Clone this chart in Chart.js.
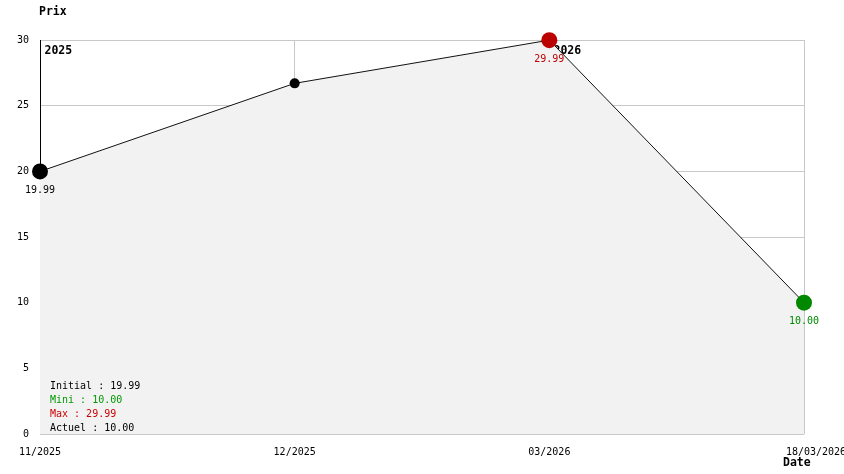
<!DOCTYPE html>
<html>
<head>
<meta charset="utf-8">
<script src="https://cdn.jsdelivr.net/npm/chart.js@4/dist/chart.umd.min.js"></script>
<style>
  body { margin: 0; background: #fff; }
  canvas { display: block; }
</style>
</head>
<body>
<canvas id="chart-prix" width="844" height="474"></canvas>
<script>
// data
const dateLabels = ['11/2025', '12/2025', '03/2026', '18/03/2026'];
const prices = [19.99, 26.7, 29.99, 10.00];
const pointColors = ['#000000', '#000000', '#bb0000', '#008800'];
const pointSizes = [8, 5, 8, 8];
const showValue = [true, false, true, true];
const yearIndexes = [0, 2];
const yearLabels = ['2025', '2026'];
const statNames = ['Initial', 'Mini', 'Max', 'Actuel'];
const statValues = ['19.99', '10.00', '29.99', '10.00'];
const statColors = ['#000000', '#009900', '#cc0000', '#000000'];

const MONO = "'DejaVu Sans Mono', monospace";
Chart.defaults.font.family = MONO;
Chart.defaults.font.size = 10;
Chart.defaults.color = '#000';

// year markers, behind the filled area
const yearPlugin = {
    id: 'years',
    beforeDatasetsDraw(chart) {
        const ctx = chart.ctx;
        const area = chart.chartArea;
        const x = chart.scales.x;
        ctx.save();
        ctx.strokeStyle = '#000';
        ctx.lineWidth = 1;
        ctx.fillStyle = '#000';
        ctx.font = 'bold 11.5px ' + MONO;
        ctx.textBaseline = 'middle';
        yearIndexes.forEach((idx, i) => {
            const px = Math.round(x.getPixelForValue(idx)) + 0.5;
            ctx.beginPath();
            ctx.moveTo(px, area.top);
            ctx.lineTo(px, area.bottom);
            ctx.stroke();
            ctx.fillText(yearLabels[i], px + 4, area.top + 11);
        });
        ctx.restore();
    }
};

// value labels, stats box and axis names
const textPlugin = {
    id: 'texts',
    afterDatasetsDraw(chart) {
        const ctx = chart.ctx;
        const area = chart.chartArea;
        const meta = chart.getDatasetMeta(0);
        ctx.save();
        ctx.font = '10px ' + MONO;
        ctx.textBaseline = 'middle';
        ctx.textAlign = 'center';
        meta.data.forEach((pt, i) => {
            if (!showValue[i]) return;
            ctx.fillStyle = pointColors[i];
            ctx.fillText(prices[i].toFixed(2), pt.x, pt.y + 19);
        });

        ctx.textAlign = 'left';
        statNames.forEach((name, i) => {
            ctx.fillStyle = statColors[i];
            ctx.fillText(name + ' : ' + statValues[i], area.left + 10, area.bottom - 48 + i * 14);
        });

        ctx.font = 'bold 11.5px ' + MONO;
        ctx.fillStyle = '#000';
        ctx.fillText('Prix', 39, 12);
        ctx.fillText('Date', 783, 463);
        ctx.restore();
    }
};

let ctx = document.getElementById('chart-prix').getContext('2d');

let prixChart = new Chart(ctx, {
    type: 'line',
    data: {
        labels: dateLabels,
        datasets: [{
            data: prices,
            borderColor: '#111',
            borderWidth: 1,
            tension: 0,
            fill: 'origin',
            backgroundColor: '#f2f2f2',
            clip: false,
            pointRadius: pointSizes,
            pointHoverRadius: pointSizes,
            pointBackgroundColor: pointColors,
            pointBorderColor: pointColors,
            pointBorderWidth: 0
        }]
    },
    options: {
        responsive: false,
        animation: false,
        layout: {
            padding: { top: 40, right: 40, left: 0, bottom: 0 }
        },
        plugins: {
            legend: { display: false },
            title: { display: false },
            tooltip: { enabled: false }
        },
        scales: {
            x: {
                offset: false,
                grid: { color: '#c8c8c8', drawTicks: false },
                border: { display: false },
                ticks: {
                    padding: 12, maxRotation: 0, autoSkip: false, color: '#000',
                    // last date sits a little right of its grid line
                    callback: (v, i) => (i === dateLabels.length - 1 ? '    ' : '') + dateLabels[i]
                },
                afterFit: (scale) => {
                    scale.height = 40;
                    scale.paddingLeft = 0;
                    scale.paddingRight = 0;
                }
            },
            y: {
                min: 0,
                max: 30,
                grid: { color: '#c8c8c8', drawTicks: false },
                border: { display: false },
                ticks: { stepSize: 5, padding: 11, color: '#000' },
                afterFit: (scale) => { scale.width = 40; }
            }
        }
    },
    plugins: [yearPlugin, textPlugin]
});
</script>
</body>
</html>
